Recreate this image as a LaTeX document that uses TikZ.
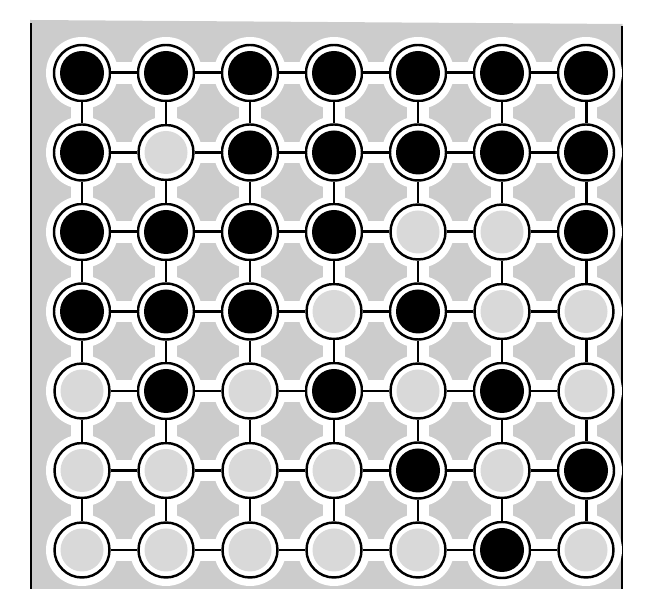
\documentclass[tikz,border=0pt]{standalone}
\begin{document}
\begin{tikzpicture}[
    empty/.style={circle, draw, line width=1.4pt, inner sep=0pt, minimum size=1.1cm, fill=white,
      path picture={\fill[gray!30] (path picture bounding box.center) circle (0.43cm);}},
    full/.style={circle, draw, line width=1.4pt, inner sep=0pt, minimum size=1.12cm, fill=white,
      path picture={\fill[black] (path picture bounding box.center) circle (0.44cm);}},
    bond/.style={line width=1.7pt, preaction={draw=white, line width=12pt}}
  ]
  \useasboundingbox (0,0) rectangle (13.02,11.78);
  % Board:
  \fill[gray!40] (0.6,0) -- (0.6,11.38) -- (12.45,11.3) -- (12.45,0) -- cycle;
  \draw[line width=1pt] (0.62,0) -- (0.62,11.32);
  \draw[line width=1pt] (12.44,0) -- (12.44,11.26);
  % Holes and beads:
  \foreach \r/\pat in {1/{1,1,1,1,1,1,1}, 2/{1,0,1,1,1,1,1}, 3/{1,1,1,1,0,0,1},
      4/{1,1,1,0,1,0,0}, 5/{0,1,0,1,0,1,0}, 6/{0,0,0,0,1,0,1}, 7/{0,0,0,0,0,1,0}} {
    \foreach \d [count=\c] in \pat {
      \pgfmathsetmacro\x{1.64+1.68*(\c-1)}
      \pgfmathsetmacro\y{10.32-1.59*(\r-1)}
      \fill[white] (\x,\y) circle (0.72cm);
      \ifnum\d=1 \def\kind{full}\else\def\kind{empty}\fi
      \node[\kind] (n-\r-\c) at (\x,\y) {};
    }
  }
  % Bonds:
  \foreach \r in {1,...,7} {
    \foreach \c [evaluate=\c as \n using int(\c+1)] in {1,...,6} {
      \draw[bond] (n-\r-\c) -- (n-\r-\n);
      \draw[bond] (n-\c-\r) -- (n-\n-\r);
    }
  }
\end{tikzpicture}
\end{document}
